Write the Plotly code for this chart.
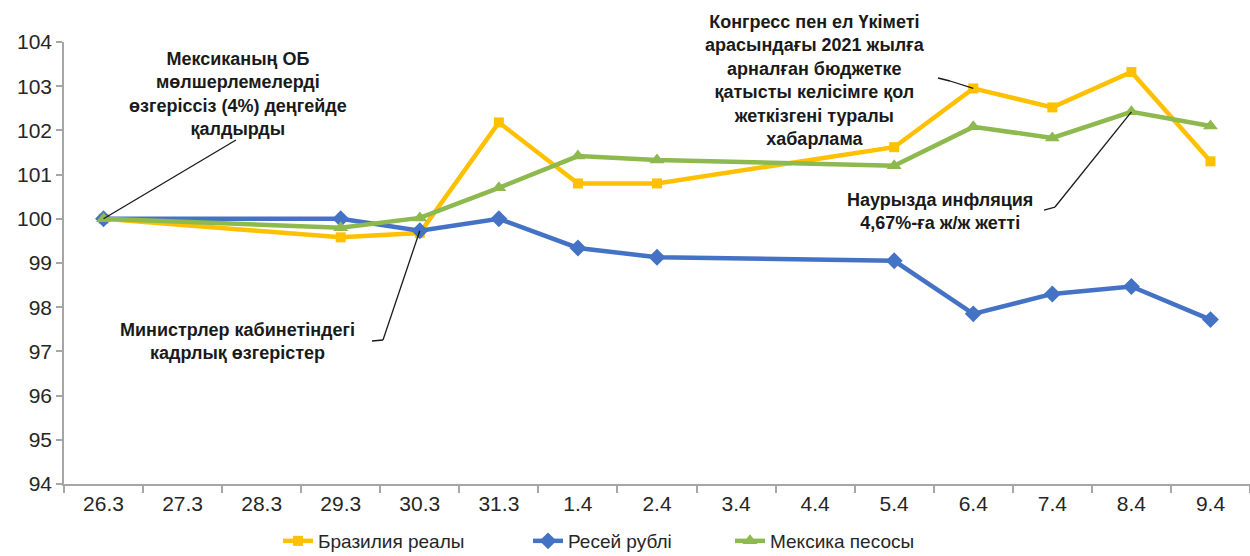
import plotly.graph_objects as go

categories = ["26.3", "27.3", "28.3", "29.3", "30.3", "31.3", "1.4", "2.4",
              "3.4", "4.4", "5.4", "6.4", "7.4", "8.4", "9.4"]
brazil = [100.0, None, None, 99.58, 99.68, 102.18, 100.8, 100.8, None, None,
          101.62, 102.95, 102.52, 103.32, 101.3]
russia = [100.0, None, None, 100.0, 99.73, 100.0, 99.34, 99.13, None, None,
          99.05, 97.85, 98.3, 98.47, 97.72]
mexico = [100.0, None, None, 99.8, 100.02, 100.7, 101.42, 101.33, None, None,
          101.2, 102.08, 101.83, 102.42, 102.1]
series_names = ["Бразилия реалы", "Ресей рублі", "Мексика песосы"]
y_ticks = list(range(94, 105))

W, H = 1250, 556
L, R, T, B = 64, 0, 42, 72
PW, PH = W - L - R, H - T - B
YMIN, YMAX = 94, 104


def px(x):
    return (x - L) / PW


def py(y):
    return (H - B - y) / PH


def cat_px(i):
    return L + (i + 0.5) * PW / len(categories)


def val_py(v):
    return T + (YMAX - v) / (YMAX - YMIN) * PH


FONT = "Liberation Sans, Arial, sans-serif"
TXT = "#262626"
COLORS = ["#FFC000", "#4472C4", "#8DB94E"]

fig = go.Figure()
fig.add_trace(go.Scatter(x=categories, y=brazil, name=series_names[0], mode="lines+markers",
                         connectgaps=True, line=dict(color=COLORS[0], width=4.5),
                         marker=dict(symbol="square", size=10, color=COLORS[0]),
                         legend="legend"))
fig.add_trace(go.Scatter(x=categories, y=russia, name=series_names[1], mode="lines+markers",
                         connectgaps=True, line=dict(color=COLORS[1], width=4.5),
                         marker=dict(symbol="diamond", size=13, color=COLORS[1]),
                         legend="legend2"))
fig.add_trace(go.Scatter(x=categories, y=mexico, name=series_names[2], mode="lines+markers",
                         connectgaps=True, line=dict(color=COLORS[2], width=4.5),
                         marker=dict(symbol="triangle-up", size=13, color=COLORS[2]),
                         legend="legend3"))

ann_font = dict(family=FONT, size=18, color="#1a1a1a")
annotations = []
shapes = []


def text_ann(text, cx, cy):
    annotations.append(dict(text=text, xref="paper", yref="paper", x=px(cx), y=py(cy),
                            xanchor="center", yanchor="middle", showarrow=False,
                            font=ann_font, align="center"))


def leader(idx, yval, points):
    # polyline anchored at a data point; points are pixel positions on the page
    tx, ty = cat_px(idx), val_py(yval)
    pts = [(tx, ty)] + points
    for (x0, y0), (x1, y1) in zip(pts[:-1], pts[1:]):
        shapes.append(dict(type="line", xref="x", yref="y", xsizemode="pixel",
                           ysizemode="pixel", xanchor=idx, yanchor=yval,
                           x0=x0 - tx, x1=x1 - tx, y0=ty - y0, y1=ty - y1,
                           line=dict(color="#1a1a1a", width=1.3)))


text_ann("<b>Мексиканың ОБ<br>мөлшерлемелерді<br>өзгеріссіз (4%) деңгейде<br>қалдырды</b>", 238, 94)
leader(0, mexico[0], [(236, 140)])

text_ann("<b>Министрлер кабинетіндегі<br>кадрлық өзгерістер</b>", 237, 341)
leader(4, russia[4], [(383, 340), (372, 341)])

text_ann("<b>Конгресс пен ел Үкіметі<br>арасындағы 2021 жылға<br>арналған бюджетке<br>"
         "қатысты келісімге қол<br>жеткізгені туралы<br>хабарлама</b>", 815, 80)
leader(11, brazil[11], [(950, 81), (938, 78)])

text_ann("<b>Наурызда инфляция<br>4,67%-ға ж/ж жетті</b>", 940, 212)
leader(13, mexico[13], [(1055, 207), (1044, 210)])

leg_font = dict(family=FONT, size=19, color=TXT)
leg_common = dict(orientation="h", yanchor="middle", xanchor="left", y=py(541),
                  font=leg_font, bgcolor="rgba(0,0,0,0)")

fig.update_layout(
    width=W, height=H,
    margin=dict(l=L, r=R, t=T, b=B, autoexpand=False),
    paper_bgcolor="white", plot_bgcolor="white",
    font=dict(family=FONT, size=20, color=TXT),
    showlegend=True,
    legend=dict(x=px(278), **leg_common),
    legend2=dict(x=px(528), **leg_common),
    legend3=dict(x=px(730), **leg_common),
    annotations=annotations,
    shapes=shapes,
)
fig.update_xaxes(type="category", categoryorder="array", categoryarray=categories,
                 range=[-0.5, len(categories) - 0.5], showgrid=False, showline=True,
                 linecolor="#A6A6A6", linewidth=1.5, ticks="outside", tickson="boundaries",
                 ticklen=7, tickcolor="#A6A6A6", tickwidth=1.5,
                 tickfont=dict(family=FONT, size=21, color=TXT), zeroline=False)
fig.update_yaxes(range=[YMIN, YMAX], tickvals=y_ticks, showgrid=False, showline=True,
                 linecolor="#A6A6A6", linewidth=1.5, ticks="outside", ticklen=6,
                 tickcolor="#A6A6A6", tickwidth=1.5,
                 tickfont=dict(family=FONT, size=21, color=TXT), zeroline=False)

fig.write_html("out.html", config={"displayModeBar": False},
               post_script="document.body.style.margin='0';document.body.style.padding='0';")
